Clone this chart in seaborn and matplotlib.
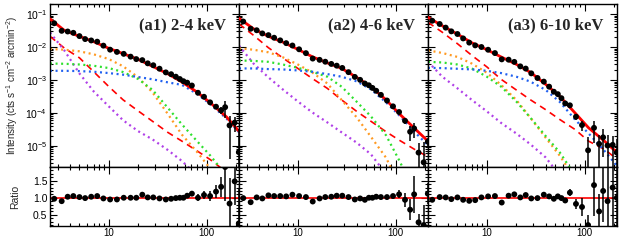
import numpy as np
import matplotlib
matplotlib.use("Agg")
import matplotlib.pyplot as plt
import seaborn as sns
from matplotlib.ticker import LogLocator, MultipleLocator, NullFormatter, FixedLocator, FixedFormatter

# radius grid of the model curves and radius of the data bins (arcsec)
r_model = [2.5, 3.5, 5, 7, 10, 14, 20, 28, 40, 56, 80, 110, 160, 215]
r_data = [2.76, 3.29, 3.79, 4.33, 5.0, 5.72, 6.6, 7.6, 8.8, 10.3, 12.1, 14.2, 16.7, 19.1,
          22, 25, 28.5, 33, 38.3, 43.4, 48.5, 53.3, 58, 63.4, 70.8, 81.7, 94.2, 108.7,
          125, 141, 155, 172, 194, 214]

band_labels = ["(a1) 2-4 keV", "(a2) 4-6 keV", "(a3) 6-10 keV"]

# (a1) 2-4 keV
a1_total = [0.071, 0.032, 0.021, 0.0145, 0.0091, 0.0063, 0.0042, 0.0026, 0.00155, 8.7e-4, 4.3e-4, 2.0e-4, 7.6e-5, 2.8e-5]
a1_blue = [1.9e-3, 1.9e-3, 1.86e-3, 1.78e-3, 1.62e-3, 1.45e-3, 1.23e-3, 1.05e-3, 8.5e-4, 7.1e-4, 3.8e-4, 1.82e-4, 6.8e-5, 2.6e-5]
a1_green = [3.16e-3, 3.1e-3, 2.95e-3, 2.7e-3, 2.3e-3, 1.74e-3, 1.07e-3, 5.0e-4, 1.45e-4, 4.5e-5, 1.4e-5, 5.0e-6, 1.26e-6, 5.0e-7]
a1_orange = [8.7e-3, 8.3e-3, 7.4e-3, 6.0e-3, 4.3e-3, 2.6e-3, 1.2e-3, 4.2e-4, 9.5e-5, 2.2e-5, 6.6e-6, 2.0e-6, 4.0e-7, 1.0e-7]
a1_dashed = [0.021, 9.3e-3, 4.7e-3, 1.78e-3, 6.3e-4, 2.5e-4, 1.15e-4, 5.6e-5, 2.6e-5, 1.4e-5, 7.1e-6, 3.8e-6, 1.6e-6, 7.9e-7]
a1_purple = [0.0275, 7.9e-3, 1.58e-3, 4.5e-4, 1.58e-4, 6.0e-5, 2.8e-5, 1.58e-5, 7.6e-6, 3.5e-6, 1.26e-6, 3.2e-7, 1e-7, 3.2e-8]
a1_data = [0.0525, 0.0309, 0.0295, 0.0269, 0.0214, 0.0174, 0.0158, 0.0145, 0.011, 0.0083, 0.0071,
           0.0062, 0.0051, 0.0043, 0.0040, 0.0032, 0.0028, 0.0022, 0.0017, 0.0015, 0.00126, 0.00107,
           0.00092, 0.00083, 0.00068, 0.00041, 0.00031, 0.00021, 0.000155, 0.00012, 0.00015,
           4.2e-5, 5.1e-5, 6.5e-6]
a1_ratio = [0.97, 0.90, 1.03, 1.05, 1.02, 0.99, 1.03, 1.05, 0.98, 0.95, 0.95, 1.0, 1.0, 1.0, 1.09,
            1.01, 1.01, 0.98, 0.95, 0.97, 0.99, 1.0, 1.0, 1.06, 1.12, 1.0, 1.08, 1.05, 1.18, 1.32,
            1.90, 0.83, 1.48, 0.25]
a1_err = [0.03, 0.03, 0.03, 0.03, 0.03, 0.03, 0.03, 0.03, 0.03, 0.03, 0.03, 0.03, 0.03, 0.03, 0.03,
          0.03, 0.03, 0.03, 0.03, 0.03, 0.03, 0.03, 0.03, 0.04, 0.05, 0.1, 0.12, 0.15, 0.2, 0.3,
          1.0, 0.75, 0.7, 1.0]

# (a2) 4-6 keV
a2_total = [0.074, 0.036, 0.021, 0.0141, 8.5e-3, 5.1e-3, 3.3e-3, 2.26e-3, 1.2e-3, 6.3e-4, 2.5e-4, 9.3e-5, 3.2e-5, 1.4e-5]
a2_blue = [2.24e-3, 2.24e-3, 2.14e-3, 2.09e-3, 1.95e-3, 1.78e-3, 1.51e-3, 1.26e-3, 9.1e-4, 5.2e-4, 2.1e-4, 8.3e-5, 2.5e-5, 1.05e-5]
a2_green = [3.9e-3, 3.8e-3, 3.55e-3, 2.95e-3, 2.34e-3, 1.78e-3, 1.26e-3, 6.3e-4, 2.2e-4, 7.9e-5, 2.1e-5, 3.5e-6, 3.2e-7, 1e-7]
a2_orange = [9.1e-3, 8.3e-3, 6.9e-3, 4.9e-3, 2.95e-3, 1.7e-3, 7.9e-4, 2.5e-4, 7.4e-5, 1.9e-5, 4.4e-6, 6.3e-7, 1e-7, 3.2e-8]
a2_dashed = [0.050, 0.0229, 9.5e-3, 4.7e-3, 2.24e-3, 1.12e-3, 5.6e-4, 2.5e-4, 1.12e-4, 5.6e-5, 2.7e-5, 1.48e-5, 7.6e-6, 4.7e-6]
a2_purple = [0.011, 3.2e-3, 1.2e-3, 5.2e-4, 2.24e-4, 1.05e-4, 5.2e-5, 2.6e-5, 1.26e-5, 5.6e-6, 1.4e-6, 3.2e-7, 1e-7, 3.2e-8]
a2_data = [0.0593, 0.0357, 0.0322, 0.0258, 0.0229, 0.0191, 0.0159, 0.0131, 0.0111, 0.00853, 0.00652,
           0.00446, 0.00408, 0.00358, 0.00307, 0.00272, 0.00232, 0.00173, 0.00124, 0.00101,
           0.000782, 0.000692, 0.000575, 0.000471, 0.000354, 0.000239, 0.000159, 0.000107,
           5.8e-5, 2.7e-5, 3.4e-5, 6.3e-6, 3.2e-6, 1.35e-5]
a2_ratio = [0.99, 0.87, 1.01, 0.98, 1.07, 1.05, 1.05, 1.04, 1.09, 1.05, 1.02, 0.89, 0.98, 1.02, 1.03,
            1.06, 1.06, 1.02, 0.95, 0.98, 0.94, 1.0, 1.0, 1.03, 1.02, 1.02, 1.05, 1.10, 0.94, 0.65,
            1.10, 0.28, 0.20, 1.12]
a2_err = [0.03, 0.03, 0.03, 0.03, 0.03, 0.03, 0.03, 0.03, 0.03, 0.03, 0.03, 0.03, 0.03, 0.03, 0.03,
          0.03, 0.03, 0.03, 0.03, 0.03, 0.03, 0.03, 0.03, 0.03, 0.03, 0.04, 0.05, 0.12, 0.2, 0.3,
          0.55, 0.25, 0.6, 0.3]

# (a3) 6-10 keV
a3_total = [0.079, 0.044, 0.0245, 0.0135, 8.3e-3, 5.0e-3, 3.0e-3, 1.7e-3, 7.4e-4, 3.16e-4, 1.0e-4, 3.55e-5, 1.4e-5, 6.3e-6]
a3_blue = [2.34e-3, 2.29e-3, 2.19e-3, 2.09e-3, 1.9e-3, 1.62e-3, 1.26e-3, 8.9e-4, 5.0e-4, 2.14e-4, 6.3e-5, 2.4e-5, 7.1e-6, 2.5e-6]
a3_green = [3.55e-3, 3.4e-3, 2.95e-3, 2.24e-3, 1.26e-3, 6.3e-4, 2.24e-4, 7.1e-5, 2.0e-5, 6.3e-6, 1.26e-6, 3.2e-7, 1e-7, 3.2e-8]
a3_orange = [7.9e-3, 6.6e-3, 5.0e-3, 3.16e-3, 1.66e-3, 7.1e-4, 2.5e-4, 7.1e-5, 1.78e-5, 5.0e-6, 1e-6, 2.5e-7, 1e-7, 3.2e-8]
a3_dashed = [0.056, 0.028, 0.0126, 5.6e-3, 2.5e-3, 1.05e-3, 5.0e-4, 2.5e-4, 1.26e-4, 6.3e-5, 3.16e-5, 1.4e-5, 7.9e-6, 4.0e-6]
a3_purple = [3.55e-3, 1.26e-3, 5.6e-4, 2.5e-4, 1.12e-4, 5.0e-5, 2.4e-5, 1.12e-5, 4.5e-6, 1.26e-6, 3.2e-7, 1e-7, 3.2e-8, 1e-8]
a3_data = [0.0625, 0.0498, 0.0387, 0.0298, 0.0248, 0.0182, 0.0136, 0.0112, 0.0100, 0.00826, 0.00655,
           0.00422, 0.00413, 0.00354, 0.00259, 0.00222, 0.00159, 0.00115, 0.000893, 0.000628,
           0.000441, 0.000372, 0.000281, 0.000195, 0.000171, 7.7e-5, 4.3e-5, 7.4e-6, 3.55e-5,
           1.16e-5, 1.83e-5, 1.03e-5, 1.08e-5, 6.3e-6]
a3_ratio = [0.94, 1.02, 1.01, 0.96, 1.01, 0.94, 0.91, 0.93, 1.01, 1.04, 1.05, 0.86, 1.06, 1.10, 1.01,
            1.08, 0.98, 0.99, 1.09, 1.04, 0.97, 1.04, 0.99, 0.92, 1.15, 0.82, 0.73, 0.20, 1.37, 0.60,
            1.20, 0.90, 1.30, 1.00]
a3_err = [0.03, 0.03, 0.03, 0.03, 0.03, 0.03, 0.03, 0.03, 0.03, 0.03, 0.03, 0.03, 0.03, 0.03, 0.03,
          0.03, 0.03, 0.03, 0.03, 0.03, 0.03, 0.03, 0.03, 0.06, 0.1, 0.15, 0.25, 0.3, 0.9, 0.5,
          0.9, 1.0, 1.2, 1.5]

panels = [
    dict(label=band_labels[0], total=a1_total, blue=a1_blue, green=a1_green, orange=a1_orange,
         dashed=a1_dashed, purple=a1_purple, data=a1_data, ratio=a1_ratio, err=a1_err),
    dict(label=band_labels[1], total=a2_total, blue=a2_blue, green=a2_green, orange=a2_orange,
         dashed=a2_dashed, purple=a2_purple, data=a2_data, ratio=a2_ratio, err=a2_err),
    dict(label=band_labels[2], total=a3_total, blue=a3_blue, green=a3_green, orange=a3_orange,
         dashed=a3_dashed, purple=a3_purple, data=a3_data, ratio=a3_ratio, err=a3_err),
]

sns.set_style("ticks")
plt.rcParams["font.family"] = ["Liberation Sans", "DejaVu Sans"]
plt.rcParams["mathtext.fontset"] = "custom"
plt.rcParams["mathtext.rm"] = "Liberation Sans"
plt.rcParams["mathtext.it"] = "Liberation Sans:italic"
plt.rcParams["mathtext.bf"] = "Liberation Sans:bold"

dotted = [("purple", "#b040e8"), ("orange", "#ff9a22"), ("green", "#2ee02e"), ("blue", "#2060f0")]

fig = plt.figure(figsize=(6.3, 2.4), dpi=100)
left, width = 0.0794, 0.3
bottom_r, height_r = 0.058, 0.246

for i, p in enumerate(panels):
    x0 = left + i * width
    ax = fig.add_axes([x0, bottom_r + height_r, width, 0.983 - bottom_r - height_r])
    axr = fig.add_axes([x0, bottom_r, width, height_r])
    for a in (ax, axr):
        a.set_xscale("log")
        a.set_xlim(2.5, 215)
    ax.set_yscale("log")
    ax.set_ylim(2.3e-6, 0.2)
    axr.set_ylim(0.17, 1.9)

    # model components
    sns.lineplot(x=r_model, y=p["dashed"], ax=ax, color="red", lw=1.2,
                 linestyle=(0, (4, 3)), estimator=None, zorder=2)
    for key, col in dotted:
        sns.lineplot(x=r_model, y=p[key], ax=ax, color=col, lw=1.6,
                     linestyle=(0, (0.9, 1.6)), estimator=None, zorder=2)
    sns.lineplot(x=r_model, y=p["total"], ax=ax, color="red", lw=2.0,
                 estimator=None, zorder=3)

    # data with error bars
    data = np.array(p["data"])
    ratio = np.array(p["ratio"])
    err = np.array(p["err"])
    rel = err / ratio
    lo = data * np.minimum(rel, 0.999)
    hi = data * rel
    ax.errorbar(r_data, data, yerr=[lo, hi], fmt="none", ecolor="black",
                elinewidth=1.1, zorder=4)
    sns.scatterplot(x=r_data, y=data, ax=ax, color="black", s=18,
                    edgecolor="none", zorder=5)

    axr.axhline(1.0, color="red", lw=1.2, zorder=2)
    axr.errorbar(r_data, ratio, yerr=err, fmt="none", ecolor="black",
                 elinewidth=1.1, zorder=4)
    sns.scatterplot(x=r_data, y=ratio, ax=axr, color="black", s=18,
                    edgecolor="none", zorder=5, clip_on=True)

    ax.text(0.93, 0.87, p["label"], transform=ax.transAxes, ha="right", va="center",
            fontsize=12, fontweight="bold", family=["Liberation Serif", "DejaVu Serif"])

    for a in (ax, axr):
        a.tick_params(which="both", direction="in", top=True, right=True,
                      colors="black", width=0.8)
        a.tick_params(which="major", length=5)
        a.tick_params(which="minor", length=2.5)
        a.xaxis.set_minor_locator(LogLocator(base=10, subs=np.arange(2, 10)))
        a.xaxis.set_minor_formatter(NullFormatter())
        for s in a.spines.values():
            s.set_linewidth(1.0)
            s.set_color("black")
        a.set_xlabel("")
        a.set_ylabel("")
    ax.yaxis.set_major_locator(LogLocator(base=10, numticks=10))
    ax.yaxis.set_minor_locator(LogLocator(base=10, subs=np.arange(2, 10), numticks=20))
    ax.yaxis.set_minor_formatter(NullFormatter())
    ax.tick_params(axis="x", labelbottom=False)
    axr.yaxis.set_major_locator(FixedLocator([0.5, 1.0, 1.5]))
    axr.yaxis.set_major_formatter(FixedFormatter(["0.5", "1.0", "1.5"]))
    axr.yaxis.set_minor_locator(MultipleLocator(0.1))
    axr.xaxis.set_major_locator(FixedLocator([10, 100]))
    axr.xaxis.set_major_formatter(FixedFormatter(["10", "100"]))
    axr.tick_params(axis="x", labelsize=7, pad=1.5)
    axr.tick_params(axis="y", labelsize=7.5, pad=2)
    ax.tick_params(axis="y", labelsize=7.5, pad=2)
    if i == 0:
        ax.set_ylabel(r"Intensity (cts s$^{-1}$ cm$^{-2}$ arcmin$^{-2}$)", fontsize=7)
        axr.set_ylabel("Ratio", fontsize=7.5)
        ax.yaxis.set_label_coords(-0.16, 0.5)
        axr.yaxis.set_label_coords(-0.16, 0.5)
    else:
        ax.tick_params(axis="y", labelleft=False)
        axr.tick_params(axis="y", labelleft=False)

fig.savefig("out.png", dpi=100)
